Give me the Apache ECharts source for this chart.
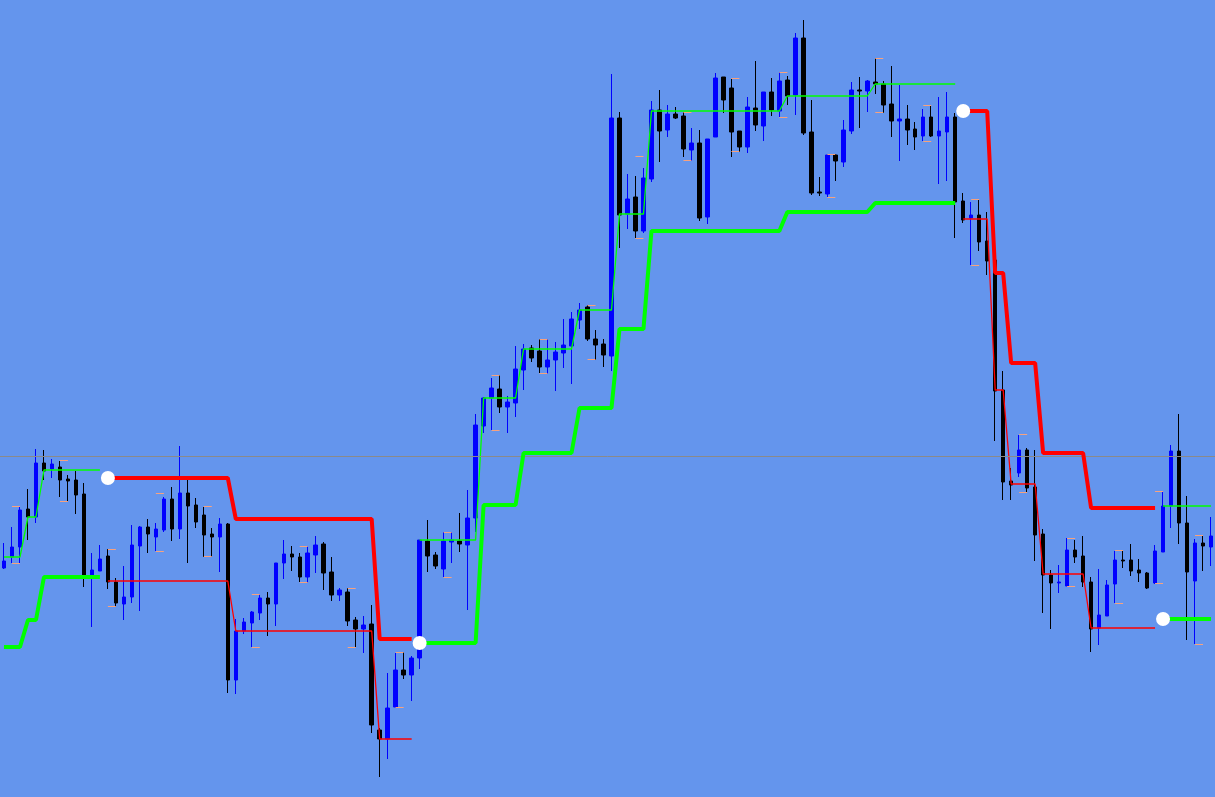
<!DOCTYPE html>
<html><head><meta charset="utf-8">
<script src="https://cdn.jsdelivr.net/npm/echarts/dist/echarts.min.js"></script>
<style>html,body{margin:0;padding:0;background:#6495ED;overflow:hidden}#c{width:1215px;height:797px}</style>
</head><body><div id="c"></div>
<script>
// Prices in points (1 point = 0.0001)
const opens = [
12888,12899,12909,12947,12939,12993,12987,12989,12977,12976,
12962,12880,12885,12900,12874,12852,12859,12910,12929,12919,
12926,12957,12927,12963,12951,12941,12922,12919,12932,12776,
12825,12833,12843,12858,12852,12893,12902,12899,12879,12901,
12912,12884,12861,12864,12836,12827,12832,12726,12717,12749,
12786,12781,12798,12915,12901,12887,12914,12915,12911,12938,
13030,13058,13067,13049,13053,13086,13108,13105,13089,13096,
13103,13110,13136,13149,13117,13112,13100,13338,13242,13259,
13225,13277,13346,13326,13342,13340,13306,13313,13239,13319,
13379,13368,13325,13309,13348,13330,13364,13345,13376,13361,
13418,13324,13264,13262,13301,13294,13325,13366,13365,13374,
13372,13352,13335,13337,13327,13320,13339,13320,13324,13339,
13255,13238,13241,13215,13196,13066,12975,12983,13006,12969,
12922,12881,12873,12870,12906,12900,12874,12828,12840,12872,
12896,12896,12886,12883,12873,12904,12950,13005,12933,12875,
12913,12909];
const closes = [
12895,12909,12946,12939,12993,12985,12992,12976,12975,12961,
12879,12886,12897,12874,12853,12859,12911,12929,12922,12927,
12957,12927,12963,12950,12934,12921,12919,12932,12776,12825,
12834,12844,12858,12852,12893,12902,12899,12879,12903,12911,
12883,12861,12866,12835,12827,12831,12731,12717,12748,12786,
12781,12798,12916,12900,12890,12915,12916,12912,12938,13031,
13058,13068,13049,13054,13087,13107,13098,13089,13096,13104,
13111,13137,13146,13117,13111,13101,13338,13241,13257,13225,
13278,13346,13325,13342,13338,13307,13313,13238,13317,13378,
13356,13324,13309,13349,13331,13364,13346,13375,13360,13418,
13323,13263,13263,13301,13295,13326,13366,13365,13375,13372,
13351,13335,13337,13326,13319,13339,13320,13325,13339,13254,
13236,13241,13214,13195,13065,12974,12971,13006,12968,12921,
12881,12873,12874,12906,12899,12874,12827,12841,12871,12896,
12895,12885,12883,12868,12905,12950,13005,12933,12884,12913,
12910,12920];
const highs = [
12913,12929,12950,12967,13007,13006,12997,12995,12981,12985,
12973,12903,12911,12907,12878,12890,12931,12930,12937,12933,
12959,12969,13010,12976,12958,12949,12928,12938,12933,12837,
12838,12845,12862,12864,12893,12916,12910,12903,12910,12920,
12914,12899,12868,12868,12839,12840,12851,12728,12783,12803,
12804,12800,12916,12936,12904,12924,12924,12943,12966,13042,
13059,13078,13081,13060,13110,13112,13111,13117,13117,13114,
13137,13144,13153,13151,13126,13117,13382,13344,13282,13280,
13288,13355,13366,13351,13349,13344,13328,13326,13317,13383,
13379,13377,13325,13359,13395,13364,13378,13384,13380,13423,
13436,13356,13279,13302,13302,13336,13374,13379,13376,13398,
13375,13390,13371,13351,13334,13347,13351,13359,13364,13343,
13263,13254,13257,13244,13202,13085,12988,13021,13008,13006,
12927,12886,12891,12918,12916,12920,12879,12887,12876,12905,
12905,12912,12897,12884,12911,12965,13011,13042,12960,12917,
12921,12939];
const lows = [
12887,12893,12892,12916,12933,12976,12978,12959,12954,12942,
12869,12829,12885,12867,12849,12836,12853,12845,12903,12905,
12924,12915,12917,12893,12928,12899,12899,12884,12763,12762,
12822,12809,12836,12820,12830,12877,12885,12874,12873,12883,
12866,12855,12855,12830,12809,12803,12723,12679,12697,12749,
12777,12755,12787,12884,12887,12879,12893,12904,12846,12924,
13023,13026,13043,13023,13039,13066,13094,13083,13082,13065,
13088,13072,13127,13115,13096,13089,13085,13208,13227,13218,
13223,13274,13294,13319,13337,13299,13295,13235,13232,13319,
13343,13299,13304,13303,13325,13315,13340,13339,13351,13341,
13321,13261,13260,13259,13275,13289,13322,13328,13344,13362,
13343,13319,13295,13311,13306,13315,13319,13272,13275,13218,
13233,13191,13205,13181,13015,12956,12956,12979,12964,12895,
12843,12827,12863,12870,12893,12869,12804,12811,12840,12853,
12888,12880,12874,12867,12872,12904,12928,12912,12816,12812,
12885,12890];
// Trailing stop (thick line) per bar
const stopLevel = [
12809,12809,12809,12836,12836,12879,12879,12879,12879,12879,
12879,12879,12879,12978,12978,12978,12978,12978,12978,12978,
12978,12978,12978,12978,12978,12978,12978,12978,12978,12937,
12937,12937,12937,12937,12937,12937,12937,12937,12937,12937,
12937,12937,12937,12937,12937,12937,12937,12817,12817,12817,
12817,12817,12813,12813,12813,12813,12813,12813,12813,12813,
12951,12951,12951,12951,12951,13003,13003,13003,13003,13003,
13003,13003,13048,13048,13048,13048,13048,13127,13127,13127,
13127,13225,13225,13225,13225,13225,13225,13225,13225,13225,
13225,13225,13225,13225,13225,13225,13225,13225,13244,13244,
13244,13244,13244,13244,13244,13244,13244,13244,13244,13253,
13253,13253,13253,13253,13253,13253,13253,13253,13253,13253,
13345,13345,13345,13345,13183,13183,13093,13093,13093,13093,
13003,13003,13003,13003,13003,13003,12948,12948,12948,12948,
12948,12948,12948,12948,12948,12837,12837,12837,12837,12837,
12837,12837];
// Secondary level (thin line) per bar
const thinLevel = [
12899,12899,12899,12939,12939,12986,12986,12986,12986,12986,
12986,12986,12986,12875,12875,12875,12875,12875,12875,12875,
12875,12875,12875,12875,12875,12875,12875,12875,12875,12825,
12825,12825,12825,12825,12825,12825,12825,12825,12825,12825,
12825,12825,12825,12825,12825,12825,12825,12717,12717,12717,
12717,12717,12916,12916,12916,12916,12916,12916,12916,12916,
13058,13058,13058,13058,13058,13107,13107,13107,13107,13107,
13107,13107,13146,13146,13146,13146,13146,13242,13242,13242,
13242,13345,13345,13345,13345,13345,13345,13345,13345,13345,
13345,13345,13345,13345,13345,13345,13345,13345,13360,13360,
13360,13360,13360,13360,13360,13360,13360,13360,13360,13372,
13372,13372,13372,13372,13372,13372,13372,13372,13372,13372,
13237,13237,13237,13237,13066,13066,12972,12972,12972,12972,
12882,12882,12882,12882,12882,12882,12828,12828,12828,12828,
12828,12828,12828,12828,12828,12950,12950,12950,12950,12950,
12950,12950];
const signalBars = [13, 52, 120, 145];
const signalTypes = ['sell', 'buy', 'sell', 'buy'];
const startTrend = 'buy';
// Orange high/low marks
const markBars = [1,1,7,7,13,13,19,19,25,25,31,31,37,37,43,43,49,49,55,55,61,61,67,67,73,73,79,79,85,85,91,91,97,97,103,103,109,109,115,115,121,121,127,127,133,133,139,139,144,144,149,149];
const markPrices = [12950,12893,12996,12955,12907,12850,12963,12905,12950,12900,12862,12809,12910,12874,12868,12809,12804,12749,12924,12879,13081,13026,13117,13083,13151,13097,13300,13218,13344,13296,13378,13305,13384,13339,13302,13259,13398,13344,13351,13315,13257,13191,13022,12964,12918,12870,12906,12853,12965,12873,12921,12812];
const refLevel = 13000;
const categories = opens.map((_, i) => String(i + 1));

const trend = [];
let cur = startTrend;
for (let i = 0; i < opens.length; i++) {
  const s = signalBars.indexOf(i);
  if (s >= 0) cur = signalTypes[s];
  trend.push(cur);
}
const pick = (arr, t) => arr.map((v, i) => trend[i] === t ? v : null);
const candles = opens.map((o, i) => [o, closes[i], lows[i], highs[i]]);
const dots = signalBars.map(b => [b, stopLevel[b]]);
const marks = markBars.map((b, i) => [b, markPrices[i]]);

const chart = echarts.init(document.getElementById('c'), null, {renderer: 'canvas'});
chart.setOption({
  animation: false,
  backgroundColor: '#6495ED',
  grid: {left: 0, top: 0, width: 1216, height: 797},
  xAxis: {type: 'category', data: categories, show: false, boundaryGap: true},
  yAxis: {type: 'value', min: 12659, max: 13456, show: false, splitLine: {show: false}},
  series: [
    {type: 'line', data: [], z: 1, silent: true,
     markLine: {silent: true, symbol: 'none', label: {show: false},
       lineStyle: {color: '#8a8a8a', width: 1, type: 'solid', opacity: 1},
       data: [{yAxis: refLevel}]}},
    {type: 'candlestick', data: candles, barWidth: 4, z: 2,
     itemStyle: {color: '#0000FF', color0: '#000000', borderColor: '#0000FF', borderColor0: '#000000', borderWidth: 1}},
    {type: 'custom', data: marks, z: 3,
     renderItem: function (params, api) {
       const a = api.coord([api.value(0), api.value(1)]);
       const b = api.coord([api.value(0) + 1, api.value(1)]);
       const y = Math.round(a[1]) + 0.5;
       return {type: 'line', shape: {x1: a[0], y1: y, x2: b[0], y2: y}, style: {stroke: '#F7A27F', lineWidth: 1}};
     }},
    {type: 'line', data: pick(thinLevel, 'buy'), symbol: 'none', z: 4, lineStyle: {color: '#00FF00', width: 1.3}},
    {type: 'line', data: pick(thinLevel, 'sell'), symbol: 'none', z: 4, lineStyle: {color: '#FF0000', width: 1.3}},
    {type: 'line', data: pick(stopLevel, 'buy'), symbol: 'none', z: 5, lineStyle: {color: '#00FF00', width: 4}},
    {type: 'line', data: pick(stopLevel, 'sell'), symbol: 'none', z: 5, lineStyle: {color: '#FF0000', width: 4}},
    {type: 'scatter', data: dots, symbol: 'circle', symbolSize: 14, z: 6,
     itemStyle: {color: '#FFFFFF', opacity: 1}}
  ]
});
</script></body></html>
